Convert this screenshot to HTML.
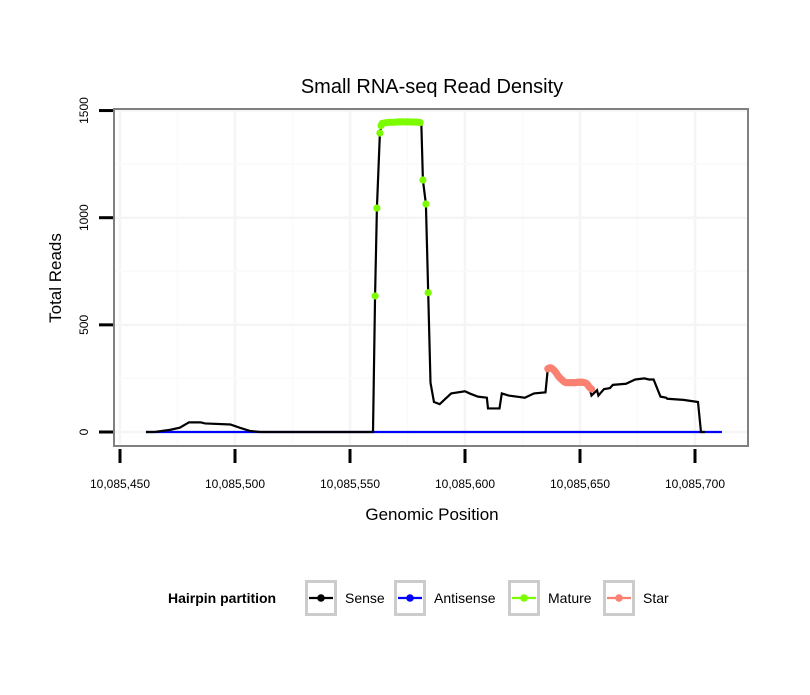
<!DOCTYPE html>
<html><head><meta charset="utf-8"><style>
body{margin:0;background:#fff;}
text{font-family:"Liberation Sans",Arial,sans-serif;}
</style></head><body>
<svg id="chart" width="810" height="690" xmlns="http://www.w3.org/2000/svg">
</svg>
<script>
const xTicks=[10085450,10085500,10085550,10085600,10085650,10085700];
const xTickLabels=["10,085,450","10,085,500","10,085,550","10,085,600","10,085,650","10,085,700"];
const yTicks=[0,500,1000,1500];
const yTickLabels=["0","500","1000","1500"];
const senseOffsets=[11.3,15,21.7,26,30,35,37,48,52,56.5,61,110,110.9,111.7,113,114,131,131.7,133,134,135,136.5,139,141,144,150,152,155.6,159.5,160,165,166,169,176,180,185,186,187,188,189,190,191,192,193,194,195,196,197,198,199,200,201,202,203,204,205,207.4,208,210.4,213,214.3,220,224,228,230,232,235,237.4,238,245,251.3,252.6,254.3,261.7];
const senseValues=[0,0,10,20,45,45,40,35,20,5,0,0,635,1045,1395,1445,1445,1176,1064,650,230,140,130,150,180,190,180,165,160,110,110,180,170,160,180,185,295,300,295,285,270,255,245,235,230,230,230,230,230,232,232,232,230,225,210,170,195,170,200,205,220,225,245,250,245,245,165,160,155,150,140,0,0];
const antiOffsets=[11.3,261.7];
const antiValues=[0,0];
const matureOffsets=[110.9,111.7,113,113.5,114,115,116,117,118,119,120,121,122,123,124,125,126,127,128,129,130,130.5,131.7,133,134];
const matureValues=[635,1045,1395,1430,1440,1442,1444,1445,1445,1445,1446,1447,1447,1447,1447,1447,1447,1446,1446,1446,1445,1444,1176,1064,650];
const starOffsets=[186,186.5,187,187.5,188,188.5,189,189.5,190,190.5,191,191.5,192,192.5,193,193.5,194,194.5,195,195.5,196,196.5,197,197.5,198,198.5,199,199.5,200,200.5,201,201.5,202,202.5,203,203.5,204,204.5,205];
const starValues=[295,298,300,298,295,290,285,278,270,262,255,250,245,240,235,232,230,230,230,230,230,230,230,230,230,231,232,232,232,232,232,231,230,228,225,218,210,205,200];
const base=10085450;
const X=p=>120+(p-base)*2.3;
const Xo=o=>X(base+o);
const Y=v=>432-v*0.2143;
const svg=document.getElementById('chart');
const NS='http://www.w3.org/2000/svg';
function mk(tag,attrs,parent){const e=document.createElementNS(NS,tag);for(const k in attrs)e.setAttribute(k,attrs[k]);(parent||svg).appendChild(e);return e;}
const grid=mk('g',{});


[10085475,10085525,10085575,10085625,10085675].forEach(v=>mk('line',{x1:X(v),x2:X(v),y1:109,y2:446,stroke:'#fafafa','stroke-width':1.5},grid));
xTicks.forEach(v=>mk('line',{x1:X(v),x2:X(v),y1:109,y2:446,stroke:'#f5f5f5','stroke-width':2.5},grid));
[250,750,1250].forEach(v=>mk('line',{x1:114,x2:748,y1:Y(v),y2:Y(v),stroke:'#fafafa','stroke-width':1.5},grid));
yTicks.forEach(v=>mk('line',{x1:114,x2:748,y1:Y(v),y2:Y(v),stroke:'#f5f5f5','stroke-width':2.5},grid));
const frame=mk('rect',{x:114,y:109,width:634,height:337,fill:'none',stroke:'#808080','stroke-width':2});


xTicks.forEach((v,i)=>{
 const t=mk('line',{x1:X(v),x2:X(v),y1:449,y2:463,stroke:'#000','stroke-width':3});
 
 
 const l=mk('text',{x:X(v),y:488,'font-size':12,'text-anchor':'middle'});
 l.textContent=xTickLabels[i];
 
 
});
yTicks.forEach((v,i)=>{
 const t=mk('line',{x1:99,x2:113,y1:Y(v),y2:Y(v),stroke:'#000','stroke-width':3});
 
 
 const l=mk('text',{x:0,y:0,'font-size':12,'text-anchor':'middle',transform:`translate(88,${Y(v)}) rotate(-90)`});
 l.textContent=yTickLabels[i];
 
 
});
function line(offs,vals,color,name){const p=mk('polyline',{points:offs.map((o,i)=>Xo(o)+','+Y(vals[i])).join(' '),fill:'none',stroke:color,'stroke-width':2.2});return p;}
line(antiOffsets,antiValues,'#0000ff','antisense-line');
line(senseOffsets,senseValues,'#000','sense-line');
matureOffsets.forEach((o,i)=>{const c=mk('circle',{cx:Xo(o),cy:Y(matureValues[i]),r:3.6,fill:'#7cfc00'});});
starOffsets.forEach((o,i)=>{const c=mk('circle',{cx:Xo(o),cy:Y(starValues[i]),r:3.6,fill:'#fa8072'});});
const tt=mk('text',{x:432,y:93,'font-size':20,'text-anchor':'middle'});tt.textContent='Small RNA-seq Read Density';

const xt=mk('text',{x:432,y:520,'font-size':17,'text-anchor':'middle'});xt.textContent='Genomic Position';

const yt=mk('text',{x:0,y:0,'font-size':17,'text-anchor':'middle',transform:'translate(61,278) rotate(-90)'});yt.textContent='Total Reads';

const lt=mk('text',{x:168,y:603,'font-size':14,'font-weight':'bold'});lt.textContent='Hairpin partition';

const leg=[['Sense','#000',305,345],['Antisense','#0000ff',394,434],['Mature','#7cfc00',508,548],['Star','#fa8072',603,643]];
leg.forEach(([n,c,bx,tx])=>{
 const g=mk('g',{});
 
 
 mk('rect',{x:bx+1.5,y:581.5,width:29,height:33,fill:'#fff',stroke:'#cccccc','stroke-width':3},g);
 mk('line',{x1:bx+4,x2:bx+28,y1:598,y2:598,stroke:c,'stroke-width':2.2},g);
 mk('circle',{cx:bx+16,cy:598,r:3.8,fill:c},g);
 const t=mk('text',{x:tx,y:603,'font-size':14},g);t.textContent=n;
});
</script>
</body></html>
